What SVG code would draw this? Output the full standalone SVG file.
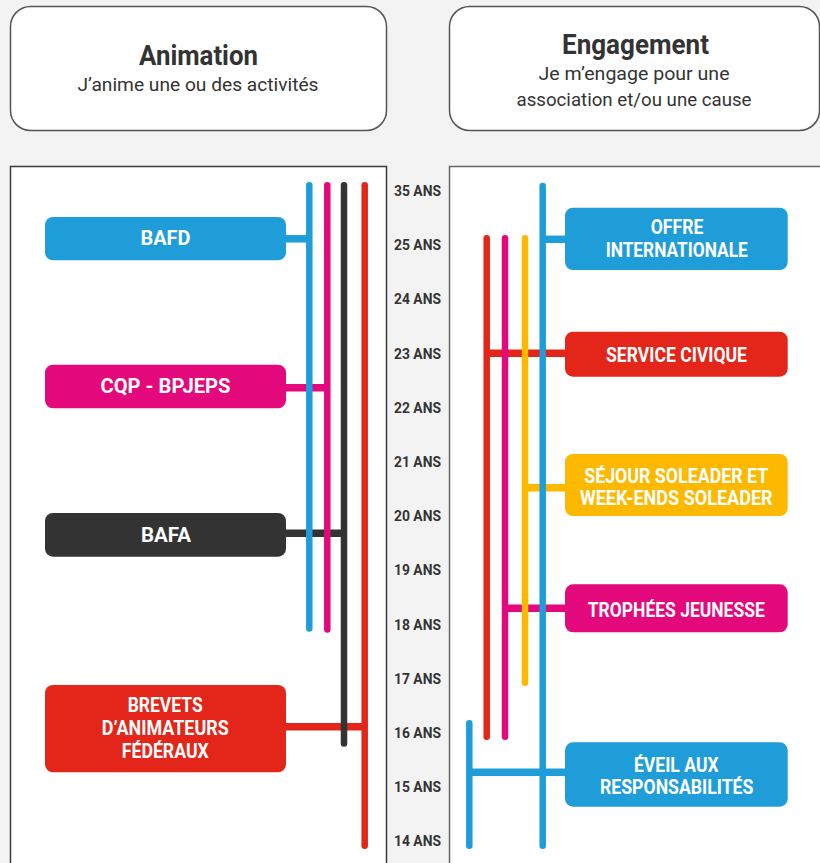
<svg xmlns="http://www.w3.org/2000/svg" width="820" height="863" viewBox="0 0 820 863">
<style>
.hdr{fill:#fff;stroke:#555;stroke-width:1.5}
.panel{fill:#fff;stroke:#555;stroke-width:1.5}
.ttl{font-family:Roboto,"Liberation Sans",sans-serif;font-weight:bold;font-size:27px;fill:#333;text-anchor:middle}
.sub{font-family:Roboto,"Liberation Sans",sans-serif;font-size:19px;fill:#333;text-anchor:middle}
.age{font-family:Roboto,"Liberation Sans",sans-serif;font-weight:bold;font-size:15.5px;fill:#333;text-anchor:middle}
.lbl{font-family:Roboto,"Liberation Sans",sans-serif;font-weight:bold;font-size:21px;fill:#fff;text-anchor:middle}
.v{fill:none;stroke-width:6.5;stroke-linecap:round}
.h{fill:none;stroke-width:7.5}
.blue{stroke:#1f9dd8}.pink{stroke:#e3097d}.dark{stroke:#333}.red{stroke:#e32619}.yel{stroke:#fcb900}
.fblue{fill:#1f9dd8}.fpink{fill:#e3097d}.fdark{fill:#333}.fred{fill:#e32619}.fyel{fill:#fcb900}
</style>
<rect x="0" y="0" width="820" height="863" fill="#f3f3f3"/>

<g id="header-animation">
<rect class="hdr" x="10.5" y="6.5" width="376" height="124" rx="20"/>
<text class="ttl" x="198.5" y="65" textLength="119" lengthAdjust="spacingAndGlyphs">Animation</text>
<text class="sub" x="198" y="91" textLength="241" lengthAdjust="spacingAndGlyphs">J’anime une ou des activités</text>
</g>
<g id="header-engagement">
<rect class="hdr" x="449.5" y="6.5" width="370" height="124" rx="20"/>
<text class="ttl" x="635.5" y="53.5" textLength="147" lengthAdjust="spacingAndGlyphs">Engagement</text>
<text class="sub" x="634" y="79.5" textLength="191" lengthAdjust="spacingAndGlyphs">Je m’engage pour une</text>
<text class="sub" x="634" y="105.5" textLength="235" lengthAdjust="spacingAndGlyphs">association et/ou une cause</text>
</g>

<g id="panel-left"><rect class="panel" x="10.5" y="166.5" width="376" height="710" style="stroke:#3a3a3a"/></g>
<g id="panel-right"><rect class="panel" x="449.5" y="166.5" width="380" height="710" style="stroke:#666"/></g>

<g id="ages">
<text class="age" x="417.5" y="196" textLength="47" lengthAdjust="spacingAndGlyphs">35 ANS</text>
<text class="age" x="417.5" y="250.2" textLength="47" lengthAdjust="spacingAndGlyphs">25 ANS</text>
<text class="age" x="417.5" y="304.4" textLength="47" lengthAdjust="spacingAndGlyphs">24 ANS</text>
<text class="age" x="417.5" y="358.6" textLength="47" lengthAdjust="spacingAndGlyphs">23 ANS</text>
<text class="age" x="417.5" y="412.8" textLength="47" lengthAdjust="spacingAndGlyphs">22 ANS</text>
<text class="age" x="417.5" y="467" textLength="47" lengthAdjust="spacingAndGlyphs">21 ANS</text>
<text class="age" x="417.5" y="521.2" textLength="47" lengthAdjust="spacingAndGlyphs">20 ANS</text>
<text class="age" x="417.5" y="575.4" textLength="47" lengthAdjust="spacingAndGlyphs">19 ANS</text>
<text class="age" x="417.5" y="629.6" textLength="47" lengthAdjust="spacingAndGlyphs">18 ANS</text>
<text class="age" x="417.5" y="683.8" textLength="47" lengthAdjust="spacingAndGlyphs">17 ANS</text>
<text class="age" x="417.5" y="738" textLength="47" lengthAdjust="spacingAndGlyphs">16 ANS</text>
<text class="age" x="417.5" y="792.2" textLength="47" lengthAdjust="spacingAndGlyphs">15 ANS</text>
<text class="age" x="417.5" y="846.4" textLength="47" lengthAdjust="spacingAndGlyphs">14 ANS</text>
</g>

<g id="connectors">
<line class="h blue" x1="284" y1="238.8" x2="309.3" y2="238.8"/>
<line class="h pink" x1="284" y1="387.7" x2="327.3" y2="387.7"/>
<line class="h dark" x1="284" y1="533.3" x2="344" y2="533.3"/>
<line class="h red" x1="284" y1="726.7" x2="364.7" y2="726.7"/>
<line class="h blue" x1="542.7" y1="239.3" x2="567" y2="239.3"/>
<line class="h red" x1="486.7" y1="353.3" x2="567" y2="353.3"/>
<line class="h yel" x1="525" y1="487.7" x2="567" y2="487.7"/>
<line class="h pink" x1="505" y1="608.3" x2="567" y2="608.3"/>
<line class="h blue" x1="469.3" y1="772.3" x2="567" y2="772.3"/>
<line class="v blue" x1="309.3" y1="185.3" x2="309.3" y2="628.5"/>
<line class="v pink" x1="327.3" y1="185.3" x2="327.3" y2="629.5"/>
<line class="v dark" x1="344" y1="185.3" x2="344" y2="743.5"/>
<line class="v red" x1="364.7" y1="185.3" x2="364.7" y2="845.8"/>
<line class="v red" x1="486.7" y1="238.3" x2="486.7" y2="736.8"/>
<line class="v pink" x1="505" y1="238.3" x2="505" y2="736.8"/>
<line class="v yel" x1="525" y1="238.3" x2="525" y2="682.8"/>
<line class="v blue" x1="542.7" y1="186" x2="542.7" y2="845.8"/>
<line class="v blue" x1="469.3" y1="723.3" x2="469.3" y2="845.8"/>
</g>

<g id="bafd">
<rect class="fblue" x="45" y="217" width="241" height="43.3" rx="8"/>
<text class="lbl" x="165.5" y="245" textLength="50" lengthAdjust="spacingAndGlyphs">BAFD</text>
</g>
<g id="cqp-bpjeps">
<rect class="fpink" x="45" y="364.7" width="241" height="43.6" rx="8"/>
<text class="lbl" x="165.5" y="392.7" textLength="130" lengthAdjust="spacingAndGlyphs">CQP - BPJEPS</text>
</g>
<g id="bafa">
<rect class="fdark" x="45" y="513" width="241" height="43.7" rx="8"/>
<text class="lbl" x="166" y="541.7" textLength="50" lengthAdjust="spacingAndGlyphs">BAFA</text>
</g>
<g id="brevets">
<rect class="fred" x="45" y="685" width="241" height="87.3" rx="8"/>
<text class="lbl" x="165.2" y="712.3" textLength="75" lengthAdjust="spacingAndGlyphs">BREVETS</text>
<text class="lbl" x="165.3" y="735" textLength="127" lengthAdjust="spacingAndGlyphs">D’ANIMATEURS</text>
<text class="lbl" x="165.3" y="757.7" textLength="87" lengthAdjust="spacingAndGlyphs">FÉDÉRAUX</text>
</g>

<g id="offre-internationale">
<rect class="fblue" x="565" y="207.7" width="222.7" height="62.3" rx="8"/>
<text class="lbl" x="677" y="234" textLength="52.7" lengthAdjust="spacingAndGlyphs">OFFRE</text>
<text class="lbl" x="676.7" y="256.7" textLength="142" lengthAdjust="spacingAndGlyphs">INTERNATIONALE</text>
</g>
<g id="service-civique">
<rect class="fred" x="565" y="331.7" width="222.7" height="45" rx="8"/>
<text class="lbl" x="676.5" y="362" textLength="141" lengthAdjust="spacingAndGlyphs">SERVICE CIVIQUE</text>
</g>
<g id="sejour-soleader">
<rect class="fyel" x="565" y="454" width="222.7" height="62" rx="8"/>
<text class="lbl" x="676.2" y="483.3" textLength="184" lengthAdjust="spacingAndGlyphs">SÉJOUR SOLEADER ET</text>
<text class="lbl" x="676.3" y="505" textLength="192.7" lengthAdjust="spacingAndGlyphs">WEEK-ENDS SOLEADER</text>
</g>
<g id="trophees-jeunesse">
<rect class="fpink" x="565" y="584.3" width="222.7" height="48" rx="8"/>
<text class="lbl" x="676.3" y="616.7" textLength="177" lengthAdjust="spacingAndGlyphs">TROPHÉES JEUNESSE</text>
</g>
<g id="eveil-responsabilites">
<rect class="fblue" x="565" y="742.3" width="222.7" height="64.4" rx="8"/>
<text class="lbl" x="676.3" y="772.3" textLength="84.7" lengthAdjust="spacingAndGlyphs">ÉVEIL AUX</text>
<text class="lbl" x="676.7" y="794.3" textLength="153.3" lengthAdjust="spacingAndGlyphs">RESPONSABILITÉS</text>
</g>
</svg>
